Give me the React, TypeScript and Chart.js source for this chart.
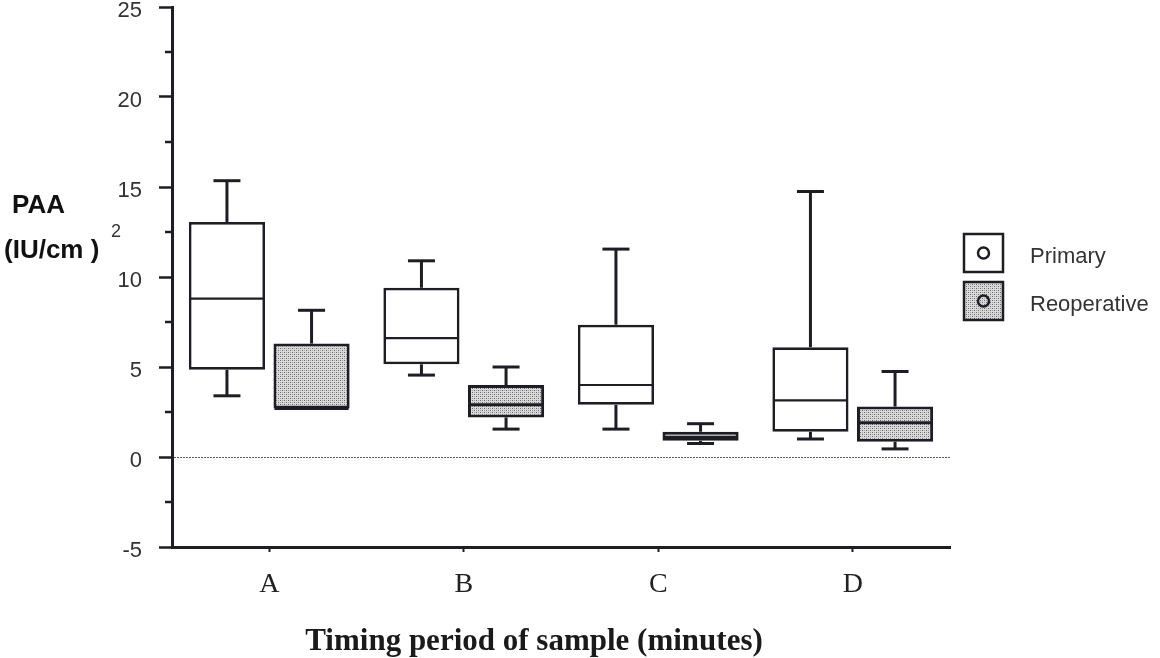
import React, { useEffect, useRef } from 'react';
import { Chart, registerables } from 'chart.js';

Chart.register(...registerables);

// ---------- data ----------
const categories = ['A', 'B', 'C', 'D'];

const primaryMin = [3.4, 4.55, 1.55, 1.0];
const primaryQ1 = [4.85, 5.15, 2.9, 1.4];
const primaryMedian = [8.8, 6.6, 4.0, 3.15];
const primaryQ3 = [13.05, 9.4, 7.35, 6.1];
const primaryMax = [15.35, 10.9, 11.55, 14.75];

const reopMin = [2.7, 1.55, 0.75, 0.45];
const reopQ1 = [2.7, 2.2, 0.9, 0.85];
const reopMedian = [2.7, 2.9, 1.1, 1.9];
const reopQ3 = [6.3, 4.0, 1.4, 2.8];
const reopMax = [8.15, 5.0, 1.85, 4.75];

const seriesNames = ['Primary', 'Reoperative'];
const yMinorTicks = [-2.5, 2.5, 7.5, 12.5, 17.5, 22.5];
const yAxisTitle = ['PAA', '(IU/cm )', '2'];
const xAxisTitle = 'Timing period of sample (minutes)';

const ink = '#1d1d26';

function makePattern(): CanvasPattern | string {
  const c = document.createElement('canvas');
  c.width = 4;
  c.height = 4;
  const g = c.getContext('2d');
  if (!g) return '#c8c8c8';
  g.fillStyle = '#dadada';
  g.fillRect(0, 0, 4, 4);
  g.fillStyle = '#666666';
  g.fillRect(0, 0, 1, 1);
  g.fillRect(2, 2, 1, 1);
  g.fillStyle = '#a4a4a4';
  g.fillRect(2, 0, 1, 1);
  g.fillRect(0, 2, 1, 1);
  const p = g.createPattern(c, 'repeat');
  return p || '#c8c8c8';
}

export default function App() {
  const ref = useRef<HTMLCanvasElement | null>(null);

  useEffect(() => {
    if (!ref.current) return;
    const pattern = makePattern();

    const stats = [
      { min: primaryMin, med: primaryMedian, max: primaryMax, q1: primaryQ1, q3: primaryQ3 },
      { min: reopMin, med: reopMedian, max: reopMax, q1: reopQ1, q3: reopQ3 },
    ];

    const boxPlugin = {
      id: 'boxExtras',
      beforeDatasetsDraw(chart: any) {
        const ctx = chart.ctx;
        const y = chart.scales.y;
        const area = chart.chartArea;
        const y0 = y.getPixelForValue(0);
        ctx.save();
        ctx.strokeStyle = '#5a5a5a';
        ctx.lineWidth = 1.2;
        ctx.setLineDash([2, 1]);
        ctx.beginPath();
        ctx.moveTo(area.left + 2, y0 + 0.5);
        ctx.lineTo(area.right, y0 + 0.5);
        ctx.stroke();
        ctx.restore();
      },
      afterDatasetsDraw(chart: any) {
        const ctx = chart.ctx;
        const y = chart.scales.y;
        const line = (x1: number, y1: number, x2: number, y2: number) => {
          ctx.beginPath();
          ctx.moveTo(x1, y1);
          ctx.lineTo(x2, y2);
          ctx.stroke();
        };
        stats.forEach((s, di) => {
          const meta = chart.getDatasetMeta(di);
          meta.data.forEach((bar: any, i: number) => {
            const { x, width } = bar.getProps(['x', 'width'], true);
            const half = width / 2;
            const capHalf = 13.5;
            ctx.save();
            ctx.strokeStyle = ink;
            ctx.lineWidth = 3;
            const pq3 = y.getPixelForValue(s.q3[i]);
            const pmax = y.getPixelForValue(s.max[i]);
            const pq1 = y.getPixelForValue(s.q1[i]);
            const pmin = y.getPixelForValue(s.min[i]);
            if (s.max[i] > s.q3[i]) {
              line(x, pq3, x, pmax);
              line(x - capHalf, pmax, x + capHalf, pmax);
            }
            if (s.min[i] < s.q1[i]) {
              line(x, pq1, x, pmin);
              line(x - capHalf, pmin, x + capHalf, pmin);
            }
            ctx.lineWidth = di === 0 ? 2.2 : 3;
            const pmed = y.getPixelForValue(s.med[i]);
            line(x - half + 1, pmed, x + half - 1, pmed);
            ctx.restore();
          });
        });
      },
      afterDraw(chart: any) {
        const ctx = chart.ctx;
        const y = chart.scales.y;
        const area = chart.chartArea;
        ctx.save();
        // minor ticks
        ctx.strokeStyle = ink;
        ctx.lineWidth = 2.5;
        yMinorTicks.forEach((v) => {
          const py = y.getPixelForValue(v);
          ctx.beginPath();
          ctx.moveTo(area.left - 7, py);
          ctx.lineTo(area.left, py);
          ctx.stroke();
        });

        // y axis title
        ctx.fillStyle = '#111';
        ctx.textAlign = 'left';
        ctx.textBaseline = 'alphabetic';
        ctx.font = 'bold 26px "Liberation Sans", Arial, sans-serif';
        ctx.fillText(yAxisTitle[0], 12, 213);
        ctx.fillText(yAxisTitle[1], 4, 258);
        ctx.font = '18px "Liberation Sans", Arial, sans-serif';
        ctx.fillStyle = '#333';
        ctx.fillText(yAxisTitle[2], 111, 237);

        // x axis title
        ctx.fillStyle = '#1a1a1a';
        ctx.textAlign = 'center';
        ctx.font = 'bold 31px "Liberation Serif", "Times New Roman", serif';
        ctx.fillText(xAxisTitle, 534, 650);

        // legend
        const drawItem = (top: number, fill: any, label: string) => {
          const lx = 964;
          const w = 39;
          const h = 38;
          ctx.fillStyle = fill;
          ctx.fillRect(lx, top, w, h);
          ctx.strokeStyle = ink;
          ctx.lineWidth = 2.5;
          ctx.strokeRect(lx, top, w, h);
          ctx.beginPath();
          ctx.arc(lx + w / 2, top + h / 2, 5.5, 0, Math.PI * 2);
          ctx.lineWidth = 2.5;
          ctx.stroke();
          ctx.fillStyle = '#333';
          ctx.textAlign = 'left';
          ctx.font = '22px "Liberation Sans", Arial, sans-serif';
          ctx.fillText(label, 1030, top + 29);
        };
        drawItem(234, '#ffffff', seriesNames[0]);
        drawItem(282, pattern, seriesNames[1]);
        ctx.restore();
      },
    };

    const chart = new Chart(ref.current, {
      type: 'bar',
      data: {
        labels: categories,
        datasets: [
          {
            label: seriesNames[0],
            data: primaryQ1.map((v, i) => [v, primaryQ3[i]]) as any,
            backgroundColor: '#ffffff',
            borderColor: ink,
            borderWidth: 2.7,
            borderSkipped: false,
            categoryPercentage: 0.87,
            barPercentage: 0.9,
          },
          {
            label: seriesNames[1],
            data: reopQ1.map((v, i) => [v, reopQ3[i]]) as any,
            backgroundColor: pattern as any,
            borderColor: ink,
            borderWidth: 3,
            borderSkipped: false,
            categoryPercentage: 0.87,
            barPercentage: 0.9,
          },
        ],
      },
      options: {
        animation: false,
        responsive: true,
        maintainAspectRatio: false,
        layout: { padding: { top: 7, right: 210, left: 0, bottom: 0 } },
        plugins: {
          legend: { display: false },
          tooltip: { enabled: false },
        },
        scales: {
          x: {
            type: 'category',
            offset: true,
            grid: {
              display: true,
              drawOnChartArea: false,
              offset: false,
              tickLength: 5,
              tickWidth: 2,
              tickColor: ink,
            },
            border: { display: true, width: 3, color: ink },
            ticks: {
              padding: 16,
              color: '#222',
              font: { family: '"Liberation Serif", "Times New Roman", serif', size: 28 },
              maxRotation: 0,
            },
            afterFit: (s: any) => {
              s.height = 111;
              s.paddingLeft = 0;
              s.paddingRight = 0;
            },
          },
          y: {
            type: 'linear',
            min: -5,
            max: 25,
            ticks: {
              stepSize: 5,
              padding: 17,
              labelOffset: 4,
              color: '#333',
              font: { family: '"Liberation Sans", Arial, sans-serif', size: 22 },
            },
            grid: {
              display: true,
              drawOnChartArea: false,
              tickLength: 13,
              tickWidth: 2.5,
              tickColor: ink,
            },
            border: { display: true, width: 3, color: ink },
            afterFit: (s: any) => {
              s.width = 172;
              s.paddingTop = 0;
              s.paddingBottom = 0;
            },
          },
        },
      },
      plugins: [boxPlugin],
    });
    return () => chart.destroy();
  }, []);

  return (
    <div style={{ position: 'fixed', left: 0, top: 0, width: 1160, height: 658, background: '#fff' }}>
      <canvas ref={ref} />
    </div>
  );
}
